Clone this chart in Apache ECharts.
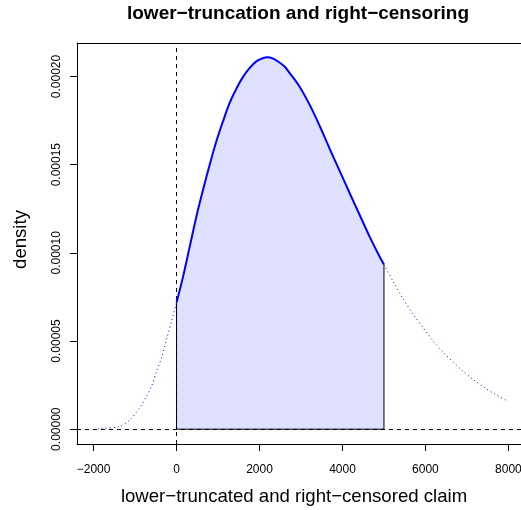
<!DOCTYPE html>
<html>
<head>
<meta charset="utf-8">
<script src="https://cdn.jsdelivr.net/npm/echarts@6/dist/echarts.min.js"></script>
<style>html,body{margin:0;padding:0;background:#fff}#c{width:521px;height:510px}</style>
</head>
<body>
<div id="c"></div>
<script>
// Values
const titleText = 'lower\u2212truncation and right\u2212censoring';
const xTitle = 'lower\u2212truncated and right\u2212censored claim';
const yTitle = 'density';
const xTicks = [-2000, 0, 2000, 4000, 6000, 8000];
const yTicks = [0, 0.00005, 0.0001, 0.00015, 0.0002];
const truncPoint = 0;
const censorPoint = 5000;
// Left (below truncation) dotted part of the density
const leftX = [-1900, -1850, -1370, -1130, -880, -720, -600, -480, -360, -240, -120, 0];
const leftY = [0, 0.0000004, 0.0000015, 0.0000053, 0.0000123, 0.0000189, 0.0000245, 0.000033, 0.0000406, 0.000051, 0.0000613, 0.0000719];
// Observed (solid) part between truncation and censoring points
const midX = [0, 160, 320, 480, 640, 800, 960, 1120, 1280, 1450, 1610, 1770, 1930, 2090, 2190, 2330, 2490, 2610, 2730, 2970, 3210, 3450, 3690, 3940, 4180, 4420, 4660, 4900, 5000];
const midY = [0.0000719, 0.0000868, 0.0001038, 0.0001208, 0.0001359, 0.0001501, 0.0001633, 0.0001746, 0.000185, 0.0001935, 0.0002001, 0.000205, 0.0002087, 0.0002105, 0.0002109, 0.0002101, 0.0002078, 0.0002055, 0.0002019, 0.0001941, 0.0001839, 0.000172, 0.0001591, 0.0001461, 0.0001335, 0.0001212, 0.0001089, 0.0000976, 0.0000934];
// Right (censored) dotted part
const rightX = [5000, 5220, 5460, 5700, 5940, 6180, 6420, 6670, 6910, 7150, 7390, 7630, 7990];
const rightY = [0.0000934, 0.0000838, 0.000074, 0.0000653, 0.0000577, 0.0000502, 0.0000438, 0.000038, 0.0000328, 0.0000282, 0.0000241, 0.0000205, 0.0000158];

const zip = (xs, ys) => xs.map((x, i) => [x, ys[i]]);
const FONT = '"Liberation Sans", Arial, Helvetica, sans-serif';
const X_MIN = -2400, X_MAX = 8400;

const chart = echarts.init(document.getElementById('c'), null, {renderer: 'canvas'});
chart.setOption({
  animation: false,
  backgroundColor: '#ffffff',
  grid: {left: 77, top: 43, width: 448, bottom: 66, show: false, outerBoundsMode: 'none', containLabel: false},
  graphic: [{
    type: 'text', x: 298, y: 14, z: 10,
    style: {text: titleText, font: 'bold 19px ' + FONT, fill: '#000', textAlign: 'center', textVerticalAlign: 'middle'}
  }],
  xAxis: [{
    type: 'value', min: X_MIN, max: X_MAX, position: 'bottom',
    name: xTitle, nameLocation: 'middle', nameGap: 43,
    nameTextStyle: {fontFamily: FONT, fontSize: 18.6, color: '#000', padding: [0, 14, 0, 0]},
    axisLine: {show: true, onZero: false, lineStyle: {color: '#000', width: 1}},
    splitLine: {show: false},
    axisTick: {show: true, inside: false, length: 7, lineStyle: {color: '#000', width: 1}, customValues: xTicks},
    axisLabel: {customValues: xTicks, margin: 20, fontFamily: FONT, fontSize: 12, color: '#000', formatter: v => String(v).replace('-', '\u2212')}
  }, {
    type: 'value', min: X_MIN, max: X_MAX, position: 'top',
    axisLine: {show: true, onZero: false, lineStyle: {color: '#000', width: 1}},
    splitLine: {show: false}, axisTick: {show: false}, axisLabel: {show: false}
  }],
  yAxis: {
    type: 'value', min: -0.0000084, max: 0.000219,
    name: yTitle, nameLocation: 'middle', nameGap: 47, nameRotate: 90,
    nameTextStyle: {fontFamily: FONT, fontSize: 18.6, color: '#000', padding: [0, 0, 0, 8]},
    axisLine: {show: true, onZero: false, lineStyle: {color: '#000', width: 1}},
    splitLine: {show: false},
    axisTick: {show: true, inside: false, length: 7, lineStyle: {color: '#000', width: 1}, customValues: yTicks},
    axisLabel: {customValues: yTicks, rotate: 90, margin: 14, fontFamily: FONT, fontSize: 12, color: '#000', formatter: v => v.toFixed(5)}
  },
  series: [
    {
      type: 'line', data: zip(leftX, leftY), showSymbol: false, symbol: 'none', smooth: 0.3, z: 2,
      lineStyle: {color: '#0000ff', width: 1, type: [1, 3]}, silent: true
    },
    {
      type: 'line', data: zip(rightX, rightY), showSymbol: false, symbol: 'none', smooth: 0.3, z: 2,
      lineStyle: {color: '#0000ff', width: 1, type: [1, 3]}, silent: true
    },
    {
      type: 'line', data: zip(midX, midY), showSymbol: false, symbol: 'none', smooth: 0.3, z: 3,
      lineStyle: {width: 0, opacity: 0}, areaStyle: {color: '#e0e0ff', opacity: 1, origin: 0}, silent: true
    },
    {
      type: 'line', data: [[truncPoint, midY[0]], [truncPoint, 0], [censorPoint, 0], [censorPoint, midY[midY.length - 1]]],
      showSymbol: false, symbol: 'none', z: 4,
      lineStyle: {color: '#000', width: 1}, silent: true
    },
    {
      type: 'line', data: zip(midX, midY), showSymbol: false, symbol: 'none', smooth: 0.3, z: 5,
      lineStyle: {color: '#0000ff', width: 2}, silent: true
    },
    {
      type: 'line', data: [], z: 6, silent: true,
      markLine: {
        silent: true, symbol: 'none', label: {show: false},
        lineStyle: {color: '#000', width: 1, type: [4, 4]},
        data: [{xAxis: truncPoint}, {yAxis: 0}]
      }
    }
  ]
});
</script>
</body>
</html>
